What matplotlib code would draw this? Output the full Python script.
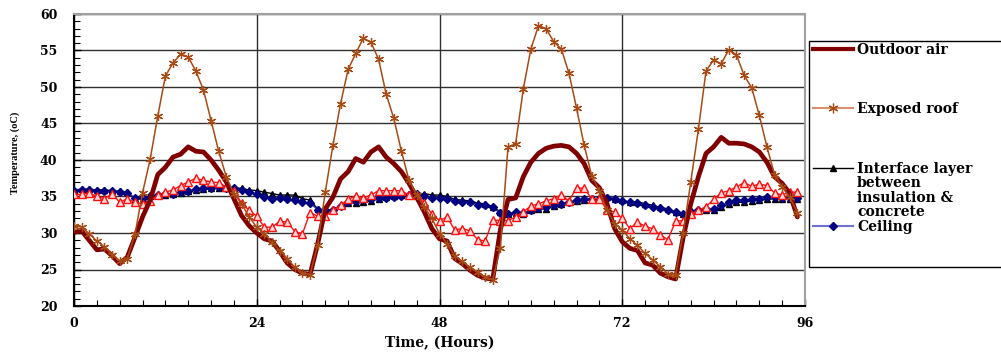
import numpy as np
import matplotlib
matplotlib.use("Agg")
import matplotlib.pyplot as plt
from matplotlib.lines import Line2D
from matplotlib.patches import Rectangle
from matplotlib.ticker import MultipleLocator

hours = list(range(96))

outdoor_air = [
    30.1, 30.3, 29.0, 27.7, 27.8, 26.9, 25.8, 26.7, 29.4, 32.2, 34.5, 38.0,
    39.0, 40.4, 40.8, 41.8, 41.2, 41.1, 40.0, 38.6, 37.0, 34.7, 32.4, 31.0,
    30.0, 29.2, 28.9, 27.5, 25.9, 25.0, 24.5, 24.3, 28.5, 33.3, 34.9, 37.4,
    38.4, 40.2, 39.7, 41.1, 41.8, 40.4, 39.5, 38.4, 36.8, 34.9, 32.9, 30.6,
    29.2, 28.9, 26.5, 25.8, 24.9, 24.2, 23.8, 23.7, 30.5, 34.6, 34.8, 37.7,
    39.7, 40.9, 41.6, 41.9, 42.0, 41.8, 40.9, 39.5, 37.2, 36.2, 34.0, 30.6,
    28.8, 27.9, 27.6, 25.9, 25.6, 24.5, 24.0, 23.7, 29.4, 34.0, 37.7, 40.9,
    41.8, 43.1, 42.3, 42.3, 42.2, 41.8, 41.1, 39.7, 37.7, 36.8, 35.4, 32.2,
]

exposed_roof = [
    31.0, 30.8, 29.9, 28.9, 28.1, 27.0, 26.2, 26.5, 29.8, 35.5, 40.1, 46.0,
    51.5, 53.3, 54.5, 54.1, 52.2, 49.6, 45.4, 41.2, 37.7, 35.4, 34.0, 32.2,
    30.8, 29.9, 28.7, 27.6, 26.5, 25.3, 24.5, 24.3, 28.4, 35.6, 42.0, 47.7,
    52.4, 54.6, 56.7, 56.1, 53.8, 49.0, 45.7, 41.2, 37.2, 35.2, 33.6, 32.0,
    29.9, 28.5, 26.9, 26.1, 25.3, 24.6, 24.0, 23.6, 28.0, 41.8, 42.2, 49.7,
    55.2, 58.4, 58.0, 56.2, 55.2, 51.9, 47.1, 42.0, 37.8, 35.8, 33.1, 31.3,
    30.4, 29.2, 28.3, 27.2, 26.3, 25.4, 24.4, 24.2, 30.0, 37.0, 44.2, 52.2,
    53.7, 53.2, 55.1, 54.4, 51.6, 49.9, 46.1, 41.8, 38.0, 36.3, 34.9, 32.8,
]

interface_layer = [
    35.9, 36.0, 36.0, 35.9, 35.9, 35.8, 35.7, 35.6, 34.7, 34.7, 35.0, 35.2,
    35.2, 35.3, 35.5, 35.7, 35.9, 36.0, 36.1, 36.2, 36.2, 36.2, 36.1, 35.9,
    35.8, 35.6, 35.4, 35.2, 35.2, 35.2, 34.7, 34.5, 33.3, 33.1, 33.2, 33.8,
    34.1, 34.1, 34.2, 34.4, 34.7, 34.9, 35.0, 35.2, 35.4, 35.4, 35.4, 35.2,
    35.2, 35.0, 34.6, 34.5, 34.4, 34.1, 34.0, 33.6, 32.9, 32.6, 32.7, 32.6,
    33.1, 33.3, 33.3, 33.7, 34.0, 34.2, 34.4, 34.5, 34.6, 34.7, 34.9, 34.7,
    34.5, 34.2, 34.3, 34.0, 33.8, 33.5, 33.3, 32.9, 32.6, 33.0, 33.1, 33.2,
    33.2, 33.5, 34.0, 34.2, 34.2, 34.4, 34.5, 34.6, 34.7, 34.7, 34.7, 34.7,
]

ceiling = [
    35.8, 35.9, 35.9, 35.8, 35.8, 35.7, 35.6, 35.5, 34.8, 34.8, 35.0, 35.2,
    35.3, 35.4, 35.6, 35.8, 36.0, 36.1, 36.2, 36.3, 36.2, 36.1, 35.9, 35.6,
    35.3, 34.9, 34.7, 34.8, 34.7, 34.5, 34.2, 34.1, 33.2, 33.1, 33.2, 33.7,
    34.2, 34.4, 34.5, 34.6, 34.8, 34.8, 34.9, 35.0, 35.2, 35.3, 35.1, 34.8,
    34.8, 34.7, 34.4, 34.2, 34.3, 33.9, 33.8, 33.5, 32.7, 32.6, 32.9, 32.7,
    33.2, 33.4, 33.6, 33.9, 34.0, 34.2, 34.5, 34.6, 34.7, 34.7, 34.8, 34.6,
    34.4, 34.2, 34.1, 33.8, 33.6, 33.4, 33.1, 32.9, 32.6, 32.9, 33.1, 33.3,
    33.3, 33.8, 34.2, 34.5, 34.5, 34.6, 34.7, 34.9, 34.9, 34.8, 34.8, 34.8,
]

other_layer = [
    35.3, 35.3, 35.5, 35.0, 34.7, 35.4, 34.2, 34.7, 34.2, 34.0, 34.4, 35.2,
    35.6, 35.9, 36.5, 37.0, 37.5, 37.2, 37.0, 36.9, 36.3, 35.8, 34.1, 33.1,
    32.3, 30.8, 30.8, 31.6, 31.5, 30.2, 29.9, 32.8, 32.3, 32.3, 33.1, 33.8,
    34.6, 35.1, 34.8, 35.2, 35.8, 35.8, 35.8, 35.8, 35.2, 35.2, 34.1, 32.6,
    31.7, 32.2, 30.4, 30.6, 30.3, 29.1, 28.9, 31.8, 31.7, 31.7, 32.2, 32.9,
    33.7, 34.0, 34.4, 34.7, 35.2, 34.4, 36.2, 36.1, 34.7, 34.7, 33.1, 32.9,
    32.0, 30.6, 31.5, 30.9, 30.6, 29.7, 29.1, 31.6, 31.7, 32.6, 33.1, 33.6,
    34.6, 35.5, 35.8, 36.3, 36.9, 36.4, 36.7, 36.5, 35.5, 35.2, 35.6, 35.6,
]

x_ticks = [0, 24, 48, 72, 96]
y_ticks = [20, 25, 30, 35, 40, 45, 50, 55, 60]
legend_labels = ["Outdoor air", "Exposed roof",
                 ["Interface layer", "between", "insulation &", "concrete"],
                 "Ceiling"]

W, H = 1001, 353
fig = plt.figure(figsize=(W / 100, H / 100), dpi=100)
ax = fig.add_axes([74 / W, 1 - 306 / H, (805 - 74) / W, (306 - 14) / H])

C_OUT = "#800000"
C_ROOF = "#A84A14"
C_BLUE = "#000080"
C_RED = "#FF1010"

ax.plot(hours, interface_layer, color="black", lw=1.0, marker="^", ms=4.5,
        mfc="black", mec="black", zorder=3)
ax.plot(hours, ceiling, color="#2030C0", lw=1.0, marker="D", ms=3.8,
        mfc=C_BLUE, mec=C_BLUE, zorder=4)
ax.plot(hours, other_layer, color=C_RED, lw=1.0, marker="^", ms=6,
        mfc="#FFD8D8", mec=C_RED, mew=1.0, zorder=5)
ax.plot(hours, outdoor_air, color=C_OUT, lw=3.4, zorder=6,
        solid_joinstyle="round", solid_capstyle="round")
ax.plot(hours, exposed_roof, color=C_ROOF, lw=1.1, marker=(6, 2, 0), ms=6.5,
        mec=C_ROOF, mew=0.9, zorder=7)

ax.set_xlim(0, 96)
ax.set_ylim(20, 60)
ax.set_xticks(x_ticks)
ax.set_yticks(y_ticks)
ax.xaxis.set_minor_locator(MultipleLocator(3))
ax.yaxis.set_minor_locator(MultipleLocator(1))
ax.grid(True, which="major", color="#303030", lw=1.0, zorder=0)
ax.set_axisbelow(True)

tick_font = dict(family="DejaVu Serif", weight="bold", size=9)
ax.tick_params(which="both", direction="in", colors="black")
ax.tick_params(which="major", length=5, width=1)
ax.tick_params(which="minor", length=4, width=0.8)
ax.tick_params(axis="y", which="major", pad=12)
ax.tick_params(axis="x", which="major", pad=8)
for lab in ax.get_xticklabels() + ax.get_yticklabels():
    lab.set_fontproperties(matplotlib.font_manager.FontProperties(**tick_font))

for s in ["left", "bottom"]:
    ax.spines[s].set_color("black")
    ax.spines[s].set_linewidth(1.5)
for s in ["top", "right"]:
    ax.spines[s].set_color("#A0A0A0")
    ax.spines[s].set_linewidth(1.5)

fig.text(439.5 / W, 1 - 347 / H, "Time, (Hours)", ha="center", va="baseline",
         family="DejaVu Serif", weight="bold", size=10)
fig.text(15 / W, 1 - 153 / H, "Temperature, (oC)", ha="center", va="center",
         rotation=90, family="Liberation Serif", weight="bold", size=7.5)


def fx(px):
    return px / W


def fy(py):
    return 1 - py / H


# legend (Excel-style box, clipped at the figure edge)
fig.add_artist(Rectangle((fx(809), fy(267)), fx(1010) - fx(809), fy(41) - fy(267),
                         transform=fig.transFigure, fill=False, ec="black", lw=1.0))
leg_font = dict(family="DejaVu Serif", weight="bold", size=10)
handles_y = [49.3, 108.3, 167.7, 226.0]
fig.add_artist(Line2D([fx(813), fx(853)], [fy(49.3)] * 2, transform=fig.transFigure,
                      color=C_OUT, lw=3.0))
fig.add_artist(Line2D([fx(813), fx(853)], [fy(108.3)] * 2, transform=fig.transFigure,
                      color="#D89070", lw=1.5))
fig.add_artist(Line2D([fx(833)], [fy(108.3)], transform=fig.transFigure,
                      color=C_ROOF, marker=(6, 2, 0), ms=7, mew=0.9, ls="none"))
fig.add_artist(Line2D([fx(813), fx(853)], [fy(167.7)] * 2, transform=fig.transFigure,
                      color="black", lw=1.0))
fig.add_artist(Line2D([fx(833)], [fy(167.7)], transform=fig.transFigure,
                      color="black", marker="^", ms=5, ls="none"))
fig.add_artist(Line2D([fx(813), fx(853)], [fy(226.0)] * 2, transform=fig.transFigure,
                      color="#7070D0", lw=1.5))
fig.add_artist(Line2D([fx(833)], [fy(226.0)], transform=fig.transFigure,
                      color=C_BLUE, marker="D", ms=4, ls="none"))

for hy, lab in zip(handles_y, legend_labels):
    lines = lab if isinstance(lab, list) else [lab]
    for i, t in enumerate(lines):
        fig.text(fx(857), fy(hy + 5 + 14.6 * i), t, ha="left", va="baseline", **leg_font)

fig.savefig("out.png", dpi=100)
